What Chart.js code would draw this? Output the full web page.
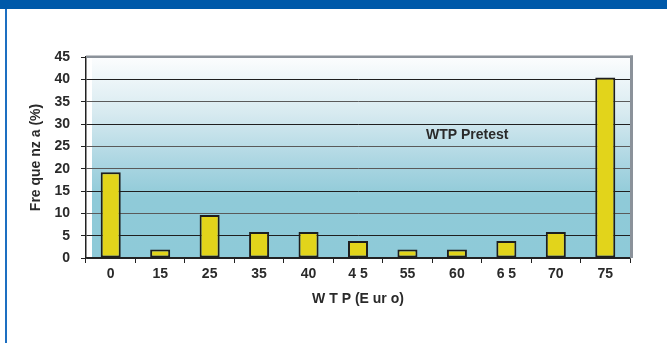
<!DOCTYPE html>
<html>
<head>
<meta charset="utf-8">
<script src="https://cdn.jsdelivr.net/npm/chart.js@4/dist/chart.umd.min.js"></script>
<style>
  html, body { margin: 0; padding: 0; background: #ffffff; }
  #wrap { position: relative; width: 667px; height: 343px; }
  canvas { display: block; }
</style>
</head>
<body>
<div id="wrap"><canvas id="c" width="667" height="343"></canvas></div>
<script>
// Willingness-to-pay answers from the pretest, share of respondents per amount
const wtpLabels = ['0', '15', '25', '35', '40', '4 5', '55', '60', '6 5', '70', '75'];
const frequencyPct = [19.2, 1.9, 9.6, 5.8, 5.8, 3.8, 1.9, 1.9, 3.8, 5.8, 40.4];
const yTickValues = [0, 5, 10, 15, 20, 25, 30, 35, 40, 45];

const FONT = "'Liberation Sans', Arial, Helvetica, sans-serif";
const INK = '#2a2a2a';

// Page frame (blue header band + left rule), plot background, outer border and caption
const framePlugin = {
  id: 'frame',
  beforeDraw(chart) {
    const { ctx, chartArea: a } = chart;
    ctx.save();
    ctx.fillStyle = '#ffffff';
    ctx.fillRect(0, 0, chart.width, chart.height);
    ctx.fillStyle = '#0059a9';
    ctx.fillRect(0, 0, chart.width, 9);
    ctx.fillStyle = '#1d6fc1';
    ctx.fillRect(5, 9, 2, chart.height - 9);

    const g = ctx.createLinearGradient(0, a.top, 0, a.bottom);
    g.addColorStop(0, '#fcfdfe');
    g.addColorStop(0.28, '#d7eaf0');
    g.addColorStop(0.52, '#acd6e2');
    g.addColorStop(0.70, '#8fcad8');
    g.addColorStop(1, '#8ecad8');
    ctx.fillStyle = g;
    ctx.fillRect(a.left + 6, a.top, a.right - a.left - 6, a.bottom - a.top);
    ctx.restore();
  },
  afterDatasetsDraw(chart) {
    const { ctx, chartArea: a } = chart;
    ctx.save();
    ctx.fillStyle = '#8b929a';
    ctx.fillRect(a.left, a.top - 1.5, a.right - a.left + 3, 2.5);
    ctx.fillRect(a.right, a.top - 1.5, 3, a.bottom - a.top + 1.5);

    ctx.fillStyle = INK;
    ctx.font = 'bold 14px ' + FONT;
    ctx.textAlign = 'left';
    ctx.textBaseline = 'middle';
    ctx.fillText('WTP Pretest', a.left + (a.right - a.left) * 0.625, a.top + (a.bottom - a.top) * 0.39);
    ctx.restore();
  }
};

// Alternating line tones for the horizontal rules
const gridTone = {5: '#1f1f1f', 10: '#5a5a5a', 15: '#1f1f1f', 20: '#5a5a5a', 25: '#5a5a5a',
                  30: '#1f1f1f', 35: '#5a5a5a', 40: '#1f1f1f', 45: 'rgba(0,0,0,0)'};

new Chart(document.getElementById('c'), {
  type: 'bar',
  data: {
    labels: wtpLabels,
    datasets: [{
      data: frequencyPct,
      backgroundColor: '#e2d41b',
      borderColor: '#1e1e1e',
      borderWidth: 2,
      borderSkipped: false,
      categoryPercentage: 1.0,
      barPercentage: 0.405
    }]
  },
  options: {
    responsive: false,
    animation: false,
    devicePixelRatio: 1,
    layout: { padding: { top: 57, right: 37, left: 0, bottom: 0 } },
    plugins: {
      legend: { display: false },
      tooltip: { enabled: false }
    },
    scales: {
      x: {
        offset: true,
        afterFit(scale) { scale.height = 85; },
        grid: {
          offset: true,
          drawOnChartArea: false,
          drawTicks: true,
          tickLength: 5,
          color: '#222222',
          lineWidth: 1
        },
        border: { color: '#222222', width: 1.5 },
        ticks: {
          padding: 3,
          color: INK,
          font: { family: FONT, size: 14, weight: 'bold' },
          maxRotation: 0,
          autoSkip: false
        },
        title: {
          display: true,
          text: 'W T P (E ur o)',
          color: INK,
          font: { family: FONT, size: 14, weight: 'bold' },
          padding: { top: 0, bottom: 35 }
        }
      },
      y: {
        min: 0,
        max: 45,
        afterFit(scale) { scale.width = 86; },
        afterBuildTicks(scale) { scale.ticks = yTickValues.map(v => ({ value: v })); },
        grid: {
          drawTicks: true,
          tickLength: 5,
          color: ctx => gridTone[ctx.tick && ctx.tick.value] || '#222222',
          tickColor: '#222222',
          lineWidth: 1
        },
        border: { color: '#222222', width: 1.5 },
        ticks: {
          padding: 11,
          color: INK,
          font: { family: FONT, size: 14, weight: 'bold' }
        },
        title: {
          display: true,
          text: 'Fre que nz a (%)',
          color: INK,
          font: { family: FONT, size: 14, weight: 'bold' },
          padding: { top: 28, bottom: 0 }
        }
      }
    }
  },
  plugins: [framePlugin]
});
</script>
</body>
</html>
